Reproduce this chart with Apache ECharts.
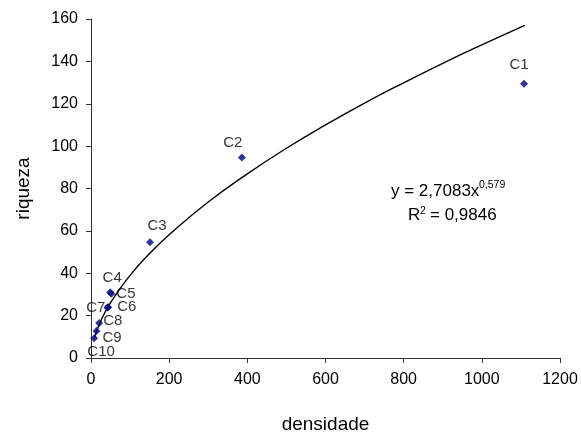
<!DOCTYPE html>
<html>
<head>
<meta charset="utf-8">
<script src="https://cdn.jsdelivr.net/npm/echarts@6/dist/echarts.min.js"></script>
<style>html,body{margin:0;padding:0;background:#fff}#c{width:581px;height:439px}</style>
</head>
<body>
<div id="c"></div>
<script>
// Data
var pointNames = ['C1','C2','C3','C4','C5','C6','C7','C8','C9','C10'];
var densidade  = [1108, 386, 151, 49, 52, 44, 42, 21, 14, 8];
var riqueza    = [129.4, 94.6, 54.6, 31, 30.3, 24, 23.8, 16.5, 12.8, 9.3];
// Trendline points
var trendX = [8, 20, 50, 100, 150, 200, 300, 400, 500, 600, 700, 800, 900, 1000, 1110];
var trendY = [9.0, 15.4, 26.1, 39.0, 49.3, 58.2, 73.6, 86.9, 99.0, 110.0, 120.3, 129.9, 139.1, 147.8, 157.0];
var xTicks = [0, 200, 400, 600, 800, 1000, 1200];
var yTicks = [0, 20, 40, 60, 80, 100, 120, 140, 160];
var eqMain = 'y = 2,7083x';
var eqExp = '0,579';
var r2Main = 'R';
var r2Exp = '2';
var r2Value = '= 0,9846';

var labelPos = {
  C1: {position: 'top', distance: 7, offset: [-5, 0]},
  C2: {position: 'top', distance: 3, offset: [-9, 0]},
  C3: {position: 'top', distance: 5, offset: [7, 0]},
  C4: {position: 'top', distance: 3, offset: [2, 0]},
  C5: {position: 'right', distance: 1},
  C6: {position: 'right', distance: 5},
  C7: {position: 'left', distance: 0, offset: [2, 0]},
  C8: {position: 'right', distance: 0, offset: [0, -2]},
  C9: {position: 'right', distance: 2, offset: [0, 7]},
  C10: {position: 'bottom', distance: 2, offset: [7, 0]}
};

var FONT = 'Liberation Sans, Arial, sans-serif';
var scatterData = pointNames.map(function (n, i) {
  var lp = labelPos[n];
  return {
    name: n,
    value: [densidade[i], riqueza[i]],
    label: Object.assign({show: true, formatter: n, color: '#000', fontSize: 15, fontFamily: FONT}, lp)
  };
});
var trendData = trendX.map(function (x, i) { return [x, trendY[i]]; });

var chart = echarts.init(document.getElementById('c'), null, {renderer: 'canvas'});
chart.setOption({
  animation: false,
  backgroundColor: '#fff',
  grid: {left: 91, right: 21, top: 19, bottom: 80},
  xAxis: {
    type: 'value', min: xTicks[0], max: xTicks[xTicks.length - 1], interval: 200,
    name: 'densidade', nameLocation: 'middle', nameGap: 57,
    nameTextStyle: {fontSize: 19, color: '#000', fontFamily: FONT},
    axisLine: {show: true, lineStyle: {color: '#333', width: 1}},
    axisTick: {show: true, length: 5, lineStyle: {color: '#333'}},
    axisLabel: {fontSize: 16, color: '#000', fontFamily: FONT, margin: 14,
      formatter: function (v) { return String(v); }},
    splitLine: {show: false}
  },
  yAxis: {
    type: 'value', min: yTicks[0], max: yTicks[yTicks.length - 1], interval: 20,
    name: 'riqueza', nameLocation: 'middle', nameGap: 58,
    nameTextStyle: {fontSize: 19, color: '#000', fontFamily: FONT},
    axisLine: {show: true, lineStyle: {color: '#333', width: 1}},
    axisTick: {show: true, length: 5, lineStyle: {color: '#333'}},
    axisLabel: {fontSize: 16, color: '#000', fontFamily: FONT, margin: 13,
      formatter: function (v) { return String(v); }},
    splitLine: {show: false}
  },
  series: [
    {
      type: 'line', data: trendData, smooth: true, showSymbol: false, symbol: 'none',
      lineStyle: {color: '#000', width: 1.4}, z: 2, silent: true
    },
    {
      type: 'scatter', data: scatterData, symbol: 'diamond', symbolSize: 8,
      itemStyle: {color: '#000080'}, z: 3
    }
  ],
  graphic: [
    {type: 'text', left: 391, top: 183, style: {text: eqMain, fontSize: 17, fontFamily: FONT, fill: '#000'}},
    {type: 'text', left: 479, top: 180, style: {text: eqExp, fontSize: 10.5, fontFamily: FONT, fill: '#000'}},
    {type: 'text', left: 408, top: 207, style: {text: r2Main, fontSize: 17, fontFamily: FONT, fill: '#000'}},
    {type: 'text', left: 420, top: 206, style: {text: r2Exp, fontSize: 10.5, fontFamily: FONT, fill: '#000'}},
    {type: 'text', left: 430, top: 207, style: {text: r2Value, fontSize: 17, fontFamily: FONT, fill: '#000'}}
  ]
});
</script>
</body>
</html>
